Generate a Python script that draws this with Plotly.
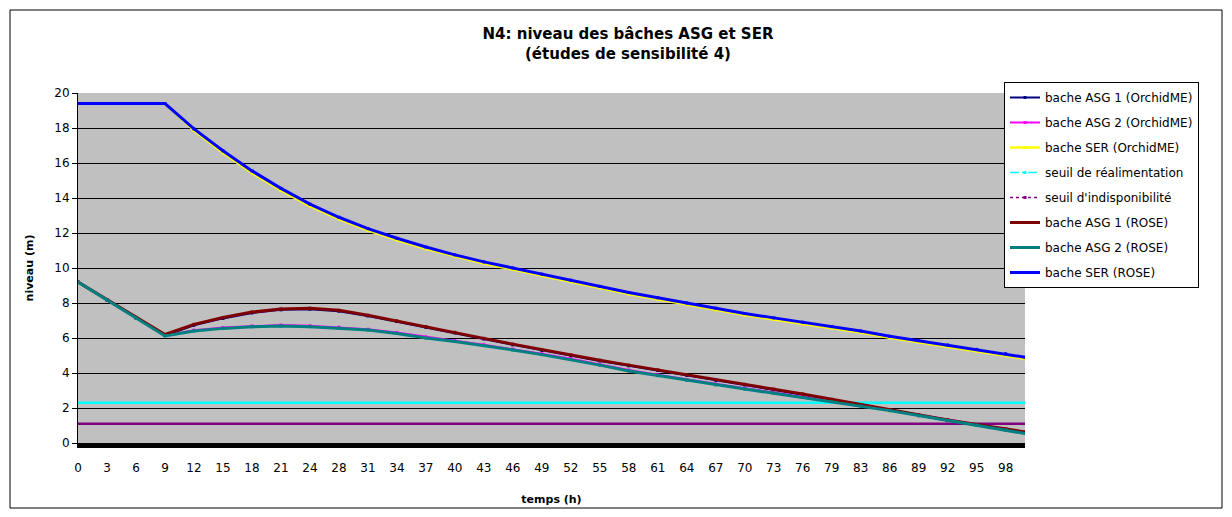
import plotly.graph_objects as go

# time index (hours, category positions) at which values were read
t_idx = [0, 3, 6, 9, 12, 15, 18, 21, 24, 27, 30, 33, 36, 39, 42, 45, 48, 51,
         54, 57, 60, 63, 66, 69, 72, 75, 78, 81, 84, 87, 90, 93, 96, 98]

# category tick labels (every 3rd category)
tick_pos = [0, 3, 6, 9, 12, 15, 18, 21, 24, 27, 30, 33, 36, 39, 42, 45, 48,
            51, 54, 57, 60, 63, 66, 69, 72, 75, 78, 81, 84, 87, 90, 93, 96]
tick_labels = ["0", "3", "6", "9", "12", "15", "18", "21", "24", "28", "31",
               "34", "37", "40", "43", "46", "49", "52", "55", "58", "61",
               "64", "67", "70", "73", "76", "79", "83", "86", "89", "92",
               "95", "98"]

asg1_orchid = [9.18, 8.16, 7.14, 6.14, 6.73, 7.12, 7.43, 7.61, 7.65, 7.53, 7.26,
               6.94, 6.61, 6.29, 5.94, 5.61, 5.29, 4.99, 4.69, 4.41, 4.14, 3.86,
               3.58, 3.31, 3.04, 2.76, 2.46, 2.16, 1.86, 1.56, 1.28, 1.02, 0.76, 0.6]
asg2_orchid = [9.2, 8.2, 7.17, 6.15, 6.45, 6.6, 6.69, 6.74, 6.7, 6.62, 6.5,
               6.31, 6.06, 5.85, 5.62, 5.37, 5.1, 4.82, 4.5, 4.17, 3.9, 3.63,
               3.37, 3.13, 2.89, 2.65, 2.41, 2.16, 1.9, 1.62, 1.34, 1.07, 0.79, 0.6]
ser_orchid = [19.4, 19.4, 19.4, 19.4, 17.85, 16.58, 15.43, 14.43, 13.54, 12.8,
              12.15, 11.6, 11.1, 10.66, 10.26, 9.91, 9.56, 9.21, 8.86, 8.51,
              8.21, 7.91, 7.61, 7.31, 7.06, 6.81, 6.56, 6.31, 6.01, 5.76, 5.51,
              5.26, 5.01, 4.81]
asg1_rose = [9.2, 8.2, 7.18, 6.2, 6.78, 7.17, 7.48, 7.66, 7.7, 7.58, 7.3,
             6.98, 6.65, 6.33, 5.98, 5.65, 5.33, 5.03, 4.73, 4.45, 4.18, 3.9,
             3.62, 3.35, 3.08, 2.8, 2.5, 2.2, 1.9, 1.6, 1.32, 1.06, 0.8, 0.63]
asg2_rose = [9.2, 8.18, 7.15, 6.12, 6.4, 6.55, 6.64, 6.69, 6.65, 6.57, 6.46,
             6.26, 6.0, 5.8, 5.57, 5.32, 5.05, 4.77, 4.45, 4.12, 3.85, 3.58,
             3.32, 3.08, 2.84, 2.6, 2.36, 2.11, 1.85, 1.57, 1.29, 1.02, 0.74, 0.54]
ser_rose = [19.4, 19.4, 19.4, 19.4, 17.95, 16.7, 15.55, 14.55, 13.65, 12.9,
            12.25, 11.7, 11.2, 10.75, 10.35, 10.0, 9.65, 9.3, 8.95, 8.6, 8.3,
            8.0, 7.7, 7.4, 7.15, 6.9, 6.65, 6.4, 6.1, 5.85, 5.6, 5.35, 5.1, 4.9]

seuil_realimentation = 2.3
seuil_indisponibilite = 1.1

FONT = "DejaVu Sans"

fig = go.Figure()

def add_series(name, y, color, width, msize=3):
    fig.add_trace(go.Scatter(
        x=t_idx, y=y, name=name, mode="lines+markers",
        line=dict(color=color, width=width),
        marker=dict(color=color, size=msize, symbol="square"),
        legendgroup=name,
    ))

def add_threshold(name, value, color, width, legend_dash):
    fig.add_trace(go.Scatter(
        x=[t_idx[0], t_idx[-1]], y=[value, value], mode="lines",
        line=dict(color=color, width=width), showlegend=False,
        legendgroup=name, hoverinfo="skip",
    ))
    fig.add_trace(go.Scatter(
        x=[None], y=[None], name=name, mode="lines+markers",
        line=dict(color=color, width=1.5, dash=legend_dash),
        marker=dict(color=color, size=3, symbol="square"),
        legendgroup=name,
    ))

add_series("bache ASG 1 (OrchidME)", asg1_orchid, "#000080", 2)
add_series("bache ASG 2 (OrchidME)", asg2_orchid, "#FF00FF", 2)
add_series("bache SER (OrchidME)", ser_orchid, "#FFFF00", 2.5)
add_threshold("seuil de réalimentation", seuil_realimentation, "#00FFFF", 2.5, "dashdot")
add_threshold("seuil d'indisponibilité", seuil_indisponibilite, "#800080", 2.5, "dot")
add_series("bache ASG 1 (ROSE)", asg1_rose, "#800000", 3)
add_series("bache ASG 2 (ROSE)", asg2_rose, "#008080", 3)
add_series("bache SER (ROSE)", ser_rose, "#0000FF", 3)

L, T, R, B = 78, 93, 1025, 443
W, H = 1232, 517
pw, ph = R - L, B - T

def px(x):
    return (x - L) / pw

def py(y):
    return (B - y) / ph

fig.update_layout(
    width=W, height=H,
    margin=dict(l=L, r=W - R, t=T, b=H - B, pad=0, autoexpand=False),
    paper_bgcolor="white",
    plot_bgcolor="#C0C0C0",
    font=dict(family=FONT, size=12, color="black"),
    title=dict(
        text="<b>N4: niveau des bâches ASG et SER<br>(études de sensibilité 4)</b>",
        font=dict(family=FONT, size=15, color="black"),
        xref="paper", x=px(628), xanchor="center",
        yref="container", y=1 - 39 / H, yanchor="top",
    ),
    xaxis=dict(
        range=[0, 98], automargin=False,
        tickmode="array", tickvals=tick_pos, ticktext=tick_labels,
        tickfont=dict(family=FONT, size=12),
        showgrid=False, zeroline=False,
        showline=True, linecolor="black", linewidth=5,
        ticks="outside", ticklen=10, tickcolor="rgba(0,0,0,0)",
        title=dict(text="<b>temps (h)</b>", font=dict(family=FONT, size=11), standoff=22),
    ),
    yaxis=dict(
        range=[0, 20], dtick=2, tick0=0, automargin=False,
        tickfont=dict(family=FONT, size=12),
        showgrid=True, gridcolor="black", gridwidth=1,
        zeroline=False,
        showline=True, linecolor="black", linewidth=1,
        ticks="outside", ticklen=5, tickcolor="black",
        title=dict(text="<b>niveau (m)</b>", font=dict(family=FONT, size=11), standoff=18),
    ),
    legend=dict(
        x=px(1004), y=py(82), xanchor="left", yanchor="top",
        bgcolor="white", bordercolor="black", borderwidth=1,
        font=dict(family=FONT, size=12),
        tracegroupgap=6, itemwidth=30,
    ),
    shapes=[
        dict(type="rect", xref="paper", yref="paper",
             x0=px(10), x1=px(1222), y0=py(508), y1=py(10),
             line=dict(color="black", width=1), fillcolor="rgba(0,0,0,0)",
             layer="below"),
    ],
)

fig.write_html("out.html", config={"displayModeBar": False},
               post_script="document.body.style.margin='0px';")
